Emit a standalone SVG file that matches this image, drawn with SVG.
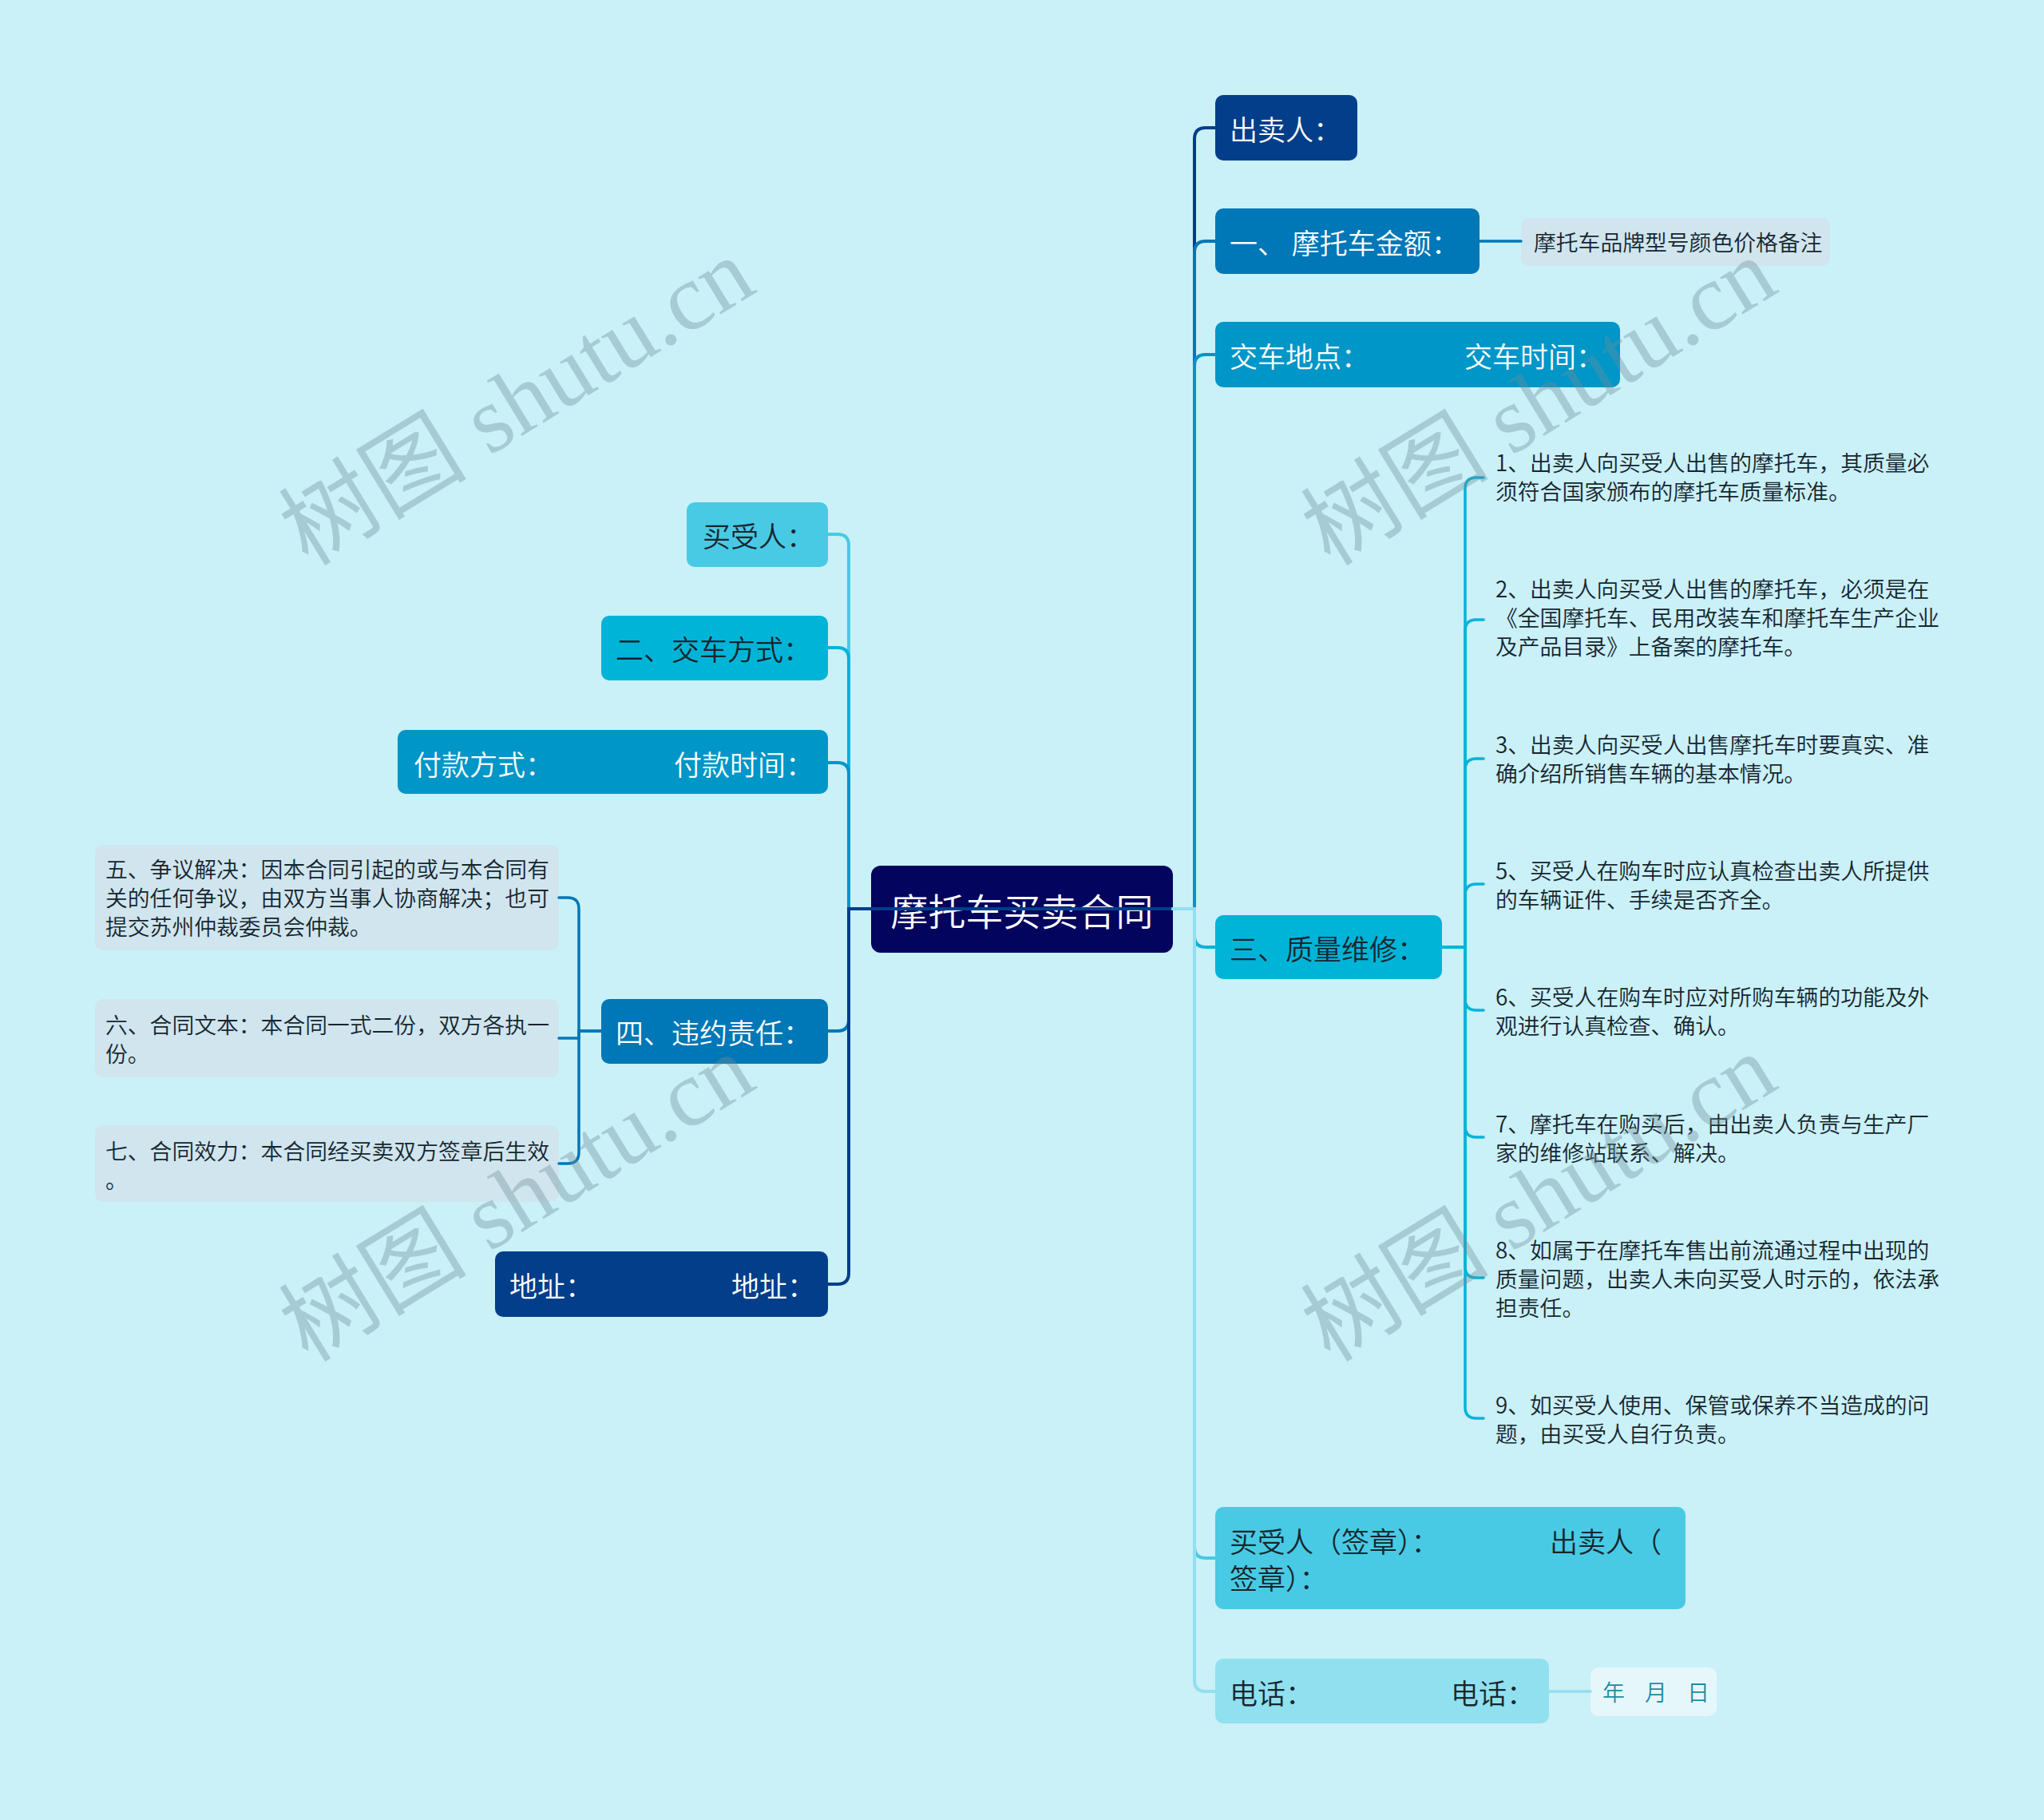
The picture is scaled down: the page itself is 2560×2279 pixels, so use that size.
<svg xmlns="http://www.w3.org/2000/svg" width="2560" height="2279" viewBox="0 0 2560 2279">
<style>
.t{font-family:"Noto Sans CJK SC","Noto Sans",sans-serif;dominant-baseline:central}
.n{font-size:35px;font-weight:350}
.w{fill:#ffffff}
.d{fill:#16262e}
.lf{font-size:27.8px;fill:#16262e;font-weight:350}
.c{fill:none;stroke-width:4;stroke-linecap:round}
.cs{fill:none;stroke-width:3.5;stroke-linecap:round}
.leafbox{fill:#d0e5ee}
.wm{font-family:"Liberation Serif","Noto Sans CJK SC",serif;font-size:118px;fill:#6e8f99;fill-opacity:0.38}
</style>
<rect x="0" y="0" width="2560" height="2279" fill="#caf0f8"/>

<g id="root">
<rect x="1091" y="1084" width="378" height="109" rx="12" fill="#03045e"/>
<text class="t w" x="1280" y="1138" font-size="47" font-weight="350" text-anchor="middle">摩托车买卖合同</text>
</g>

<g id="n-seller">
<rect x="1522" y="119" width="178" height="82" rx="10" fill="#023e8a"/>
<text class="t n w" x="1540" y="160">出卖人：</text>
</g>
<g id="n-amount">
<rect x="1522" y="261" width="331" height="82" rx="10" fill="#0077b6"/>
<text class="t n w" x="1540" y="302">一、 摩托车金额：</text>
</g>
<g id="n-amount-leaf">
<rect class="leafbox" x="1905" y="273" width="387" height="60" rx="10"/>
<text class="t lf" x="1921" y="302">摩托车品牌型号颜色价格备注</text>
</g>
<g id="n-delivery-place">
<rect x="1522" y="403" width="507" height="82" rx="10" fill="#0096c7"/>
<text class="t n w" x="1540" y="444">交车地点：<tspan x="1834">交车时间：</tspan></text>
</g>
<g id="n-quality">
<rect x="1522" y="1146" width="284" height="80" rx="10" fill="#00b4d8"/>
<text class="t n d" x="1540" y="1186">三、质量维修：</text>
</g>
<g id="n-q1"><text class="t lf" x="1873" y="578">1、出卖人向买受人出售的摩托车，其质量必<tspan x="1873" y="614">须符合国家颁布的摩托车质量标准。</tspan></text></g>
<g id="n-q2"><text class="t lf" x="1873" y="736">2、出卖人向买受人出售的摩托车，必须是在<tspan x="1873" y="772">《全国摩托车、民用改装车和摩托车生产企业</tspan><tspan x="1873" y="808">及产品目录》上备案的摩托车。</tspan></text></g>
<g id="n-q3"><text class="t lf" x="1873" y="931">3、出卖人向买受人出售摩托车时要真实、准<tspan x="1873" y="967">确介绍所销售车辆的基本情况。</tspan></text></g>
<g id="n-q5"><text class="t lf" x="1873" y="1089">5、买受人在购车时应认真检查出卖人所提供<tspan x="1873" y="1125">的车辆证件、手续是否齐全。</tspan></text></g>
<g id="n-q6"><text class="t lf" x="1873" y="1247">6、买受人在购车时应对所购车辆的功能及外<tspan x="1873" y="1283">观进行认真检查、确认。</tspan></text></g>
<g id="n-q7"><text class="t lf" x="1873" y="1406">7、摩托车在购买后，由出卖人负责与生产厂<tspan x="1873" y="1442">家的维修站联系、解决。</tspan></text></g>
<g id="n-q8"><text class="t lf" x="1873" y="1564">8、如属于在摩托车售出前流通过程中出现的<tspan x="1873" y="1600">质量问题，出卖人未向买受人时示的，依法承</tspan><tspan x="1873" y="1636">担责任。</tspan></text></g>
<g id="n-q9"><text class="t lf" x="1873" y="1758">9、如买受人使用、保管或保养不当造成的问<tspan x="1873" y="1794">题，由买受人自行负责。</tspan></text></g>
<g id="n-sign">
<rect x="1522" y="1887" width="589" height="128" rx="10" fill="#48cae4"/>
<text class="t n d" x="1540" y="1928">买受人（签章）：<tspan x="1941">出卖人（</tspan><tspan x="1540" y="1974">签章）：</tspan></text>
</g>
<g id="n-phone">
<rect x="1522" y="2077" width="418" height="81" rx="10" fill="#90e0ef"/>
<text class="t n d" x="1540" y="2118">电话：<tspan x="1817">电话：</tspan></text>
</g>
<g id="n-date">
<rect x="1992" y="2088" width="158" height="61" rx="10" fill="#e6f7fb"/>
<text class="t" font-size="28" font-weight="350" fill="#1b8ea3" x="2007" y="2118">年<tspan x="2060">月</tspan><tspan x="2113">日</tspan></text>
</g>

<g id="n-buyer">
<rect x="860" y="629" width="177" height="81" rx="10" fill="#48cae4"/>
<text class="t n d" x="880" y="669">买受人：</text>
</g>
<g id="n-delivery-method">
<rect x="753" y="771" width="284" height="81" rx="10" fill="#00b4d8"/>
<text class="t n d" x="771" y="811">二、交车方式：</text>
</g>
<g id="n-payment">
<rect x="498" y="914" width="539" height="80" rx="10" fill="#0096c7"/>
<text class="t n w" x="518" y="955">付款方式：<tspan x="844">付款时间：</tspan></text>
</g>
<g id="n-breach">
<rect x="753" y="1251" width="284" height="81" rx="10" fill="#0077b6"/>
<text class="t n w" x="771" y="1291">四、违约责任：</text>
</g>
<g id="n-l5">
<rect class="leafbox" x="119" y="1058" width="581" height="132" rx="10"/>
<text class="t lf" x="132" y="1087">五、争议解决：因本合同引起的或与本合同有<tspan x="132" y="1123">关的任何争议，由双方当事人协商解决；也可</tspan><tspan x="132" y="1159">提交苏州仲裁委员会仲裁。</tspan></text>
</g>
<g id="n-l6">
<rect class="leafbox" x="119" y="1251" width="581" height="98" rx="10"/>
<text class="t lf" x="132" y="1282">六、合同文本：本合同一式二份，双方各执一<tspan x="132" y="1318">份。</tspan></text>
</g>
<g id="n-l7">
<rect class="leafbox" x="119" y="1409" width="581" height="96" rx="10"/>
<text class="t lf" x="132" y="1440">七、合同效力：本合同经买卖双方签章后生效<tspan x="132" y="1476">。</tspan></text>
</g>
<g id="n-address">
<rect x="620" y="1567" width="417" height="82" rx="10" fill="#023e8a"/>
<text class="t n w" x="638" y="1608">地址：<tspan x="916">地址：</tspan></text>
</g>

<g id="connectors">
<path class="c" stroke="#48cae4" d="M1469 1138 H1063 V683 Q1063 669 1049 669 H1037"/>
<path class="c" stroke="#00b4d8" d="M1469 1138 H1063 V825 Q1063 811 1049 811 H1037"/>
<path class="c" stroke="#0096c7" d="M1469 1138 H1063 V969 Q1063 955 1049 955 H1037"/>
<path class="c" stroke="#0077b6" d="M1469 1138 H1063 V1277 Q1063 1291 1049 1291 H1037"/>
<path class="c" stroke="#023e8a" d="M1469 1138 H1063 V1594 Q1063 1608 1049 1608 H1037"/>

<path class="c" stroke="#023e8a" d="M1469 1138 H1496 V174 Q1496 160 1510 160 H1522"/>
<path class="c" stroke="#0077b6" d="M1469 1138 H1496 V316 Q1496 302 1510 302 H1522"/>
<path class="c" stroke="#0096c7" d="M1469 1138 H1496 V458 Q1496 444 1510 444 H1522"/>
<path class="c" stroke="#00b4d8" d="M1469 1138 H1496 V1172 Q1496 1186 1510 1186 H1522"/>
<path class="c" stroke="#48cae4" d="M1469 1138 H1496 V1937 Q1496 1951 1510 1951 H1522"/>
<path class="c" stroke="#90e0ef" d="M1469 1138 H1496 V2104 Q1496 2118 1510 2118 H1522"/>

<path class="cs" stroke="#0077b6" d="M1853 302 H1905"/>
<path class="cs" stroke="#90e0ef" d="M1940 2118 H1992"/>

<path class="cs" stroke="#00b4d8" d="M1806 1186 H1835 V612 Q1835 598 1849 598 H1858"/>
<path class="cs" stroke="#00b4d8" d="M1806 1186 H1835 V790 Q1835 776 1849 776 H1858"/>
<path class="cs" stroke="#00b4d8" d="M1806 1186 H1835 V964 Q1835 950 1849 950 H1858"/>
<path class="cs" stroke="#00b4d8" d="M1806 1186 H1835 V1121 Q1835 1107 1849 1107 H1858"/>
<path class="cs" stroke="#00b4d8" d="M1806 1186 H1835 V1251 Q1835 1265 1849 1265 H1858"/>
<path class="cs" stroke="#00b4d8" d="M1806 1186 H1835 V1410 Q1835 1424 1849 1424 H1858"/>
<path class="cs" stroke="#00b4d8" d="M1806 1186 H1835 V1586 Q1835 1600 1849 1600 H1858"/>
<path class="cs" stroke="#00b4d8" d="M1806 1186 H1835 V1762 Q1835 1776 1849 1776 H1858"/>

<path class="cs" stroke="#0077b6" d="M753 1291 H725 V1138 Q725 1124 711 1124 H700"/>
<path class="cs" stroke="#0077b6" d="M753 1291 H725 V1300 H700"/>
<path class="cs" stroke="#0077b6" d="M753 1291 H725 V1443 Q725 1457 711 1457 H700"/>
</g>

<g id="watermarks">
<text class="wm" transform="translate(386 710) rotate(-31.5)">树图 shutu.cn</text>
<text class="wm" transform="translate(1666 710) rotate(-31.5)">树图 shutu.cn</text>
<text class="wm" transform="translate(386 1707) rotate(-31.5)">树图 shutu.cn</text>
<text class="wm" transform="translate(1666 1707) rotate(-31.5)">树图 shutu.cn</text>
</g>
</svg>
